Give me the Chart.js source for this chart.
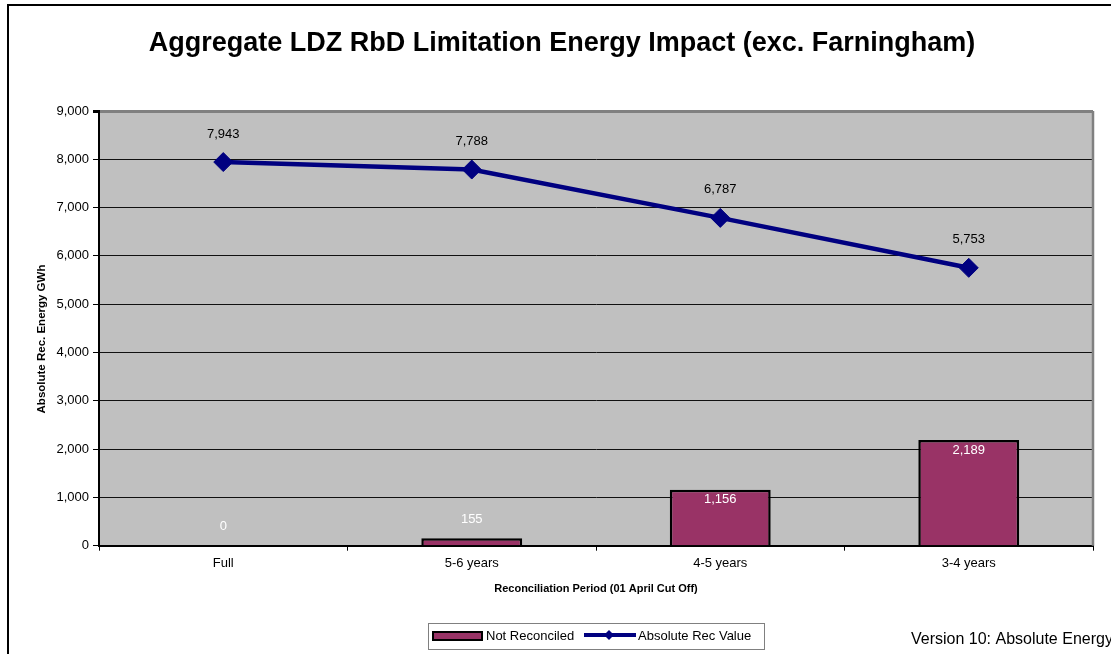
<!DOCTYPE html>
<html>
<head>
<meta charset="utf-8">
<script src="https://cdn.jsdelivr.net/npm/chart.js@4.4.1/dist/chart.umd.min.js"></script>
<style>
  html, body { margin: 0; padding: 0; background: #fff; }
  #wrap { width: 1111px; height: 654px; }
</style>
</head>
<body>
<div id="wrap"><canvas id="grafico" width="1111" height="654"></canvas></div>
<script>
// datos del grafico
const periodos = ['Full', '5-6 years', '4-5 years', '3-4 years'];
const noReconciliado = [0, 155, 1156, 2189];
const valorAbsoluto = [7943, 7788, 6787, 5753];
const ticksY = [0, 1000, 2000, 3000, 4000, 5000, 6000, 7000, 8000, 9000];

const fuente = '"Liberation Sans", Arial, sans-serif';
const fmt = v => v.toLocaleString('en-US');

const decorado = {
    id: 'decorado',
    beforeDraw(chart) {
        const { ctx, chartArea: a } = chart;
        ctx.save();
        ctx.fillStyle = '#fff';
        ctx.fillRect(0, 0, chart.width, chart.height);
        ctx.fillStyle = '#C0C0C0';
        ctx.fillRect(a.left, a.top, a.right - a.left, a.bottom - a.top);
        // marco exterior
        ctx.strokeStyle = '#000';
        ctx.lineWidth = 2;
        ctx.beginPath();
        ctx.moveTo(8, chart.height);
        ctx.lineTo(8, 5);
        ctx.lineTo(chart.width, 5);
        ctx.stroke();
        ctx.restore();
    },
    afterDatasetsDraw(chart) {
        const { ctx, chartArea: a } = chart;
        ctx.save();
        // borde derecho gris
        ctx.strokeStyle = '#808080';
        ctx.lineWidth = 2.5;
        ctx.beginPath();
        ctx.moveTo(a.right, a.top);
        ctx.lineTo(a.right, a.bottom);
        ctx.stroke();

        ctx.font = '13px ' + fuente;
        ctx.textAlign = 'center';
        ctx.textBaseline = 'middle';
        // etiquetas de barras
        chart.getDatasetMeta(1).data.forEach((bar, i) => {
            const alto = bar.base - bar.y;
            const y = alto < 30 ? bar.y - 19 : bar.y + 10;
            ctx.fillStyle = '#fff';
            ctx.fillText(fmt(noReconciliado[i]), bar.x, y);
        });
        // etiquetas de linea
        chart.getDatasetMeta(0).data.forEach((pt, i) => {
            ctx.fillStyle = '#000';
            ctx.fillText(fmt(valorAbsoluto[i]), pt.x, pt.y - 28);
        });

        // titulos
        ctx.fillStyle = '#000';
        ctx.font = 'bold 27px ' + fuente;
        ctx.fillText('Aggregate LDZ RbD Limitation Energy Impact (exc. Farningham)', 562, 44);
        ctx.font = 'bold 11px ' + fuente;
        ctx.fillText('Reconciliation Period (01 April Cut Off)', (a.left + a.right) / 2, 589);
        ctx.save();
        ctx.translate(42, 339);
        ctx.rotate(-Math.PI / 2);
        ctx.font = 'bold 11.5px ' + fuente;
        ctx.fillText('Absolute Rec. Energy GWh', 0, 0);
        ctx.restore();

        // leyenda
        ctx.strokeStyle = '#808080';
        ctx.lineWidth = 1;
        ctx.strokeRect(428.5, 623.5, 336, 26);
        ctx.fillStyle = '#993366';
        ctx.fillRect(433, 632, 49, 8);
        ctx.strokeStyle = '#000';
        ctx.lineWidth = 2;
        ctx.strokeRect(433, 632, 49, 8);
        ctx.fillStyle = '#000';
        ctx.font = '13px ' + fuente;
        ctx.textAlign = 'left';
        ctx.fillText('Not Reconciled', 486, 636);
        ctx.strokeStyle = '#000080';
        ctx.lineWidth = 4;
        ctx.beginPath();
        ctx.moveTo(584, 635);
        ctx.lineTo(636, 635);
        ctx.stroke();
        ctx.fillStyle = '#000080';
        ctx.beginPath();
        ctx.moveTo(609, 630);
        ctx.lineTo(614, 635);
        ctx.lineTo(609, 640);
        ctx.lineTo(604, 635);
        ctx.closePath();
        ctx.fill();
        ctx.fillStyle = '#000';
        ctx.fillText('Absolute Rec Value', 638, 636);

        ctx.font = '16px ' + fuente;
        ctx.fillText('Version 10: Absolute Energy', 911, 640);
        ctx.restore();
    }
};

new Chart(document.getElementById('grafico'), {
    data: {
        labels: periodos,
        datasets: [{
            type: 'line',
            label: 'Absolute Rec Value',
            data: valorAbsoluto,
            borderColor: '#000080',
            backgroundColor: '#000080',
            borderWidth: 4.5,
            pointStyle: 'rectRot',
            pointRadius: 9.5,
            pointBorderWidth: 1,
            tension: 0,
            order: 1
        }, {
            type: 'bar',
            label: 'Not Reconciled',
            data: noReconciliado,
            backgroundColor: '#993366',
            borderColor: '#000',
            borderWidth: 2.5,
            borderSkipped: 'bottom',
            categoryPercentage: 1,
            barPercentage: 0.406,
            order: 2
        }]
    },
    options: {
        responsive: false,
        animation: false,
        layout: { padding: { top: 111, right: 18, left: 0, bottom: 0 } },
        plugins: { legend: { display: false }, tooltip: { enabled: false } },
        scales: {
            x: {
                offset: true,
                grid: { drawOnChartArea: false, tickLength: 5, color: '#000', offset: true },
                border: { color: '#000', width: 2 },
                ticks: { color: '#000', font: { family: fuente, size: 13 }, padding: 5, maxRotation: 0 },
                afterFit(scale) { scale.height = 108.3; }
            },
            y: {
                min: 0,
                max: 9000,
                afterBuildTicks(scale) { scale.ticks = ticksY.map(v => ({ value: v })); },
                grid: {
                    color: c => (c.tick && c.tick.value === 9000) ? '#808080' : '#111',
                    lineWidth: c => (c.tick && c.tick.value === 9000) ? 3 : 1,
                    tickColor: '#000',
                    tickLength: 6
                },
                border: { color: '#000', width: 2 },
                ticks: { color: '#000', font: { family: fuente, size: 13 }, padding: 4, callback: v => fmt(v) },
                afterFit(scale) { scale.width = 99; }
            }
        }
    },
    plugins: [decorado]
});
</script>
</body>
</html>
